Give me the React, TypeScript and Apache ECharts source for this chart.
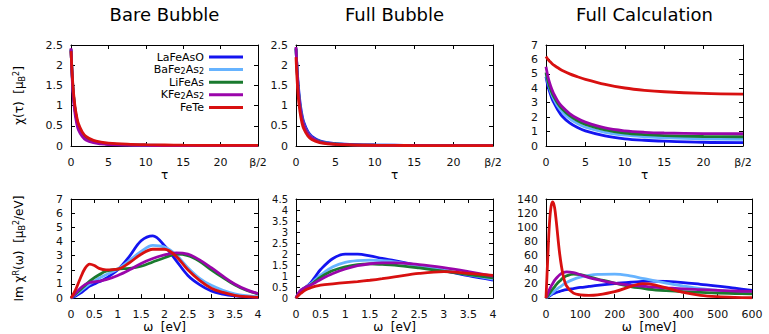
import React, { useEffect, useRef } from 'react';
import * as echarts from 'echarts';

const FONT = 'DejaVu Sans';

const seriesNames = ['LaFeAsO', 'BaFe2As2', 'LiFeAs', 'KFe2As2', 'FeTe'];
const seriesColors = ['#1414f0', '#66b3ff', '#1a7a2e', '#9a05aa', '#d81010'];
const panelTitles = ['Bare Bubble', 'Full Bubble', 'Full Calculation'];

// imaginary time grid (β/2 = 25)
const tauGrid = [0, 0.25, 0.5, 0.75, 1, 1.5, 2, 3, 4, 5, 7.5, 10, 12.5, 15, 20, 25];

const bareLaFeAsO = [2.38, 1.45, 0.95, 0.66, 0.48, 0.3, 0.2, 0.11, 0.07, 0.05, 0.03, 0.02, 0.016, 0.013, 0.01, 0.01];
const bareBaFe2As2 = [2.38, 1.47, 0.97, 0.68, 0.5, 0.31, 0.21, 0.12, 0.075, 0.055, 0.032, 0.022, 0.017, 0.014, 0.011, 0.01];
const bareLiFeAs = [2.4, 1.46, 0.96, 0.67, 0.49, 0.3, 0.2, 0.11, 0.07, 0.05, 0.03, 0.02, 0.016, 0.013, 0.01, 0.01];
const bareKFe2As2 = [2.42, 1.35, 0.85, 0.57, 0.4, 0.24, 0.15, 0.08, 0.05, 0.035, 0.02, 0.014, 0.011, 0.009, 0.008, 0.007];
const bareFeTe = [2.35, 1.52, 1.03, 0.74, 0.55, 0.35, 0.24, 0.14, 0.095, 0.07, 0.045, 0.032, 0.025, 0.02, 0.016, 0.014];

const fullLaFeAsO = [2.4, 1.6, 1.1, 0.78, 0.58, 0.36, 0.24, 0.13, 0.085, 0.06, 0.035, 0.025, 0.02, 0.016, 0.012, 0.011];
const fullBaFe2As2 = [2.42, 1.52, 1.02, 0.71, 0.52, 0.32, 0.21, 0.11, 0.072, 0.05, 0.03, 0.021, 0.017, 0.014, 0.011, 0.01];
const fullLiFeAs = [2.42, 1.5, 1.0, 0.7, 0.51, 0.31, 0.2, 0.11, 0.07, 0.05, 0.03, 0.02, 0.016, 0.013, 0.01, 0.01];
const fullKFe2As2 = [2.45, 1.5, 0.98, 0.68, 0.5, 0.3, 0.2, 0.1, 0.065, 0.045, 0.027, 0.018, 0.014, 0.012, 0.01, 0.009];
const fullFeTe = [2.2, 1.3, 0.85, 0.58, 0.42, 0.25, 0.16, 0.085, 0.055, 0.04, 0.024, 0.016, 0.013, 0.011, 0.009, 0.008];

const calcLaFeAsO = [4.8, 4.15, 3.7, 3.3, 3.0, 2.5, 2.1, 1.6, 1.28, 1.05, 0.7, 0.5, 0.4, 0.34, 0.26, 0.23];
const calcBaFe2As2 = [5.0, 4.4, 3.95, 3.55, 3.25, 2.75, 2.4, 1.9, 1.55, 1.3, 0.95, 0.75, 0.64, 0.57, 0.5, 0.46];
const calcLiFeAs = [5.1, 4.5, 4.05, 3.7, 3.4, 2.95, 2.6, 2.1, 1.75, 1.5, 1.12, 0.9, 0.79, 0.72, 0.66, 0.64];
const calcKFe2As2 = [5.5, 4.8, 4.3, 3.92, 3.6, 3.1, 2.75, 2.25, 1.9, 1.65, 1.25, 1.05, 0.95, 0.9, 0.86, 0.85];
const calcFeTe = [6.2, 6.0, 5.85, 5.72, 5.6, 5.42, 5.25, 5.0, 4.8, 4.62, 4.27, 4.02, 3.86, 3.76, 3.65, 3.6];

// real frequency grids
const omegaBare = [0, 0.1, 0.2, 0.3, 0.4, 0.5, 0.6, 0.75, 1, 1.25, 1.5, 1.75, 2, 2.25, 2.5, 2.75, 3, 3.25, 3.5, 3.75, 4];
const imBareLaFeAsO = [0, 0.15, 0.35, 0.6, 0.85, 1.0, 1.15, 1.4, 2.0, 2.95, 4.05, 4.4, 3.7, 2.65, 1.6, 0.95, 0.5, 0.28, 0.15, 0.08, 0.04];
const imBareBaFe2As2 = [0, 0.25, 0.5, 0.75, 1.0, 1.2, 1.4, 1.65, 2.05, 2.65, 3.3, 3.72, 3.6, 3.05, 2.15, 1.4, 0.9, 0.55, 0.3, 0.17, 0.1];
const imBareLiFeAs = [0, 0.3, 0.6, 0.9, 1.2, 1.45, 1.65, 1.9, 2.05, 2.1, 2.25, 2.55, 2.85, 3.1, 3.0, 2.6, 2.0, 1.45, 0.95, 0.55, 0.3];
const imBareKFe2As2 = [0, 0.35, 0.7, 0.95, 1.1, 1.15, 1.2, 1.3, 1.6, 2.0, 2.45, 2.8, 3.05, 3.2, 3.1, 2.7, 2.15, 1.55, 1.0, 0.6, 0.32];
const imBareFeTe = [0, 0.6, 1.4, 2.1, 2.4, 2.3, 2.1, 2.0, 2.05, 2.5, 3.1, 3.45, 3.45, 2.95, 2.0, 1.25, 0.7, 0.4, 0.2, 0.1, 0.05];

const omegaFull = [0, 0.05, 0.1, 0.2, 0.3, 0.4, 0.5, 0.75, 1, 1.25, 1.5, 1.75, 2, 2.5, 3, 3.5, 4];
const imFullLaFeAsO = [0, 0.2, 0.35, 0.5, 0.7, 1.0, 1.3, 1.8, 2.0, 2.0, 1.92, 1.8, 1.7, 1.48, 1.25, 1.02, 0.82];
const imFullBaFe2As2 = [0, 0.2, 0.35, 0.5, 0.65, 0.85, 1.05, 1.42, 1.62, 1.7, 1.72, 1.7, 1.65, 1.47, 1.27, 1.06, 0.86];
const imFullLiFeAs = [0, 0.2, 0.33, 0.48, 0.6, 0.78, 0.95, 1.25, 1.42, 1.52, 1.55, 1.53, 1.5, 1.37, 1.22, 1.07, 0.92];
const imFullKFe2As2 = [0, 0.22, 0.36, 0.5, 0.6, 0.72, 0.85, 1.12, 1.32, 1.47, 1.56, 1.6, 1.6, 1.52, 1.38, 1.2, 1.0];
const imFullFeTe = [0, 0.12, 0.22, 0.38, 0.47, 0.54, 0.59, 0.65, 0.7, 0.75, 0.81, 0.88, 0.96, 1.12, 1.2, 1.12, 1.03];

const omegaCalc = [0, 5, 10, 15, 20, 25, 30, 40, 50, 60, 80, 100, 125, 150, 200, 250, 280, 300, 350, 400, 450, 500, 550, 600];
const imCalcLaFeAsO = [0, 1.5, 3, 4.5, 6, 7, 8, 9.5, 11, 12, 13.5, 15, 16.5, 18, 20.5, 22.5, 23.5, 24, 23.5, 22, 19.5, 17, 14, 11];
const imCalcBaFe2As2 = [0, 2, 4, 6, 8, 10, 12, 15.5, 19, 22, 26.5, 29.5, 32, 33.5, 34, 31, 28, 26, 21, 17, 13.5, 11, 9, 7.5];
const imCalcLiFeAs = [0, 3, 6.5, 10, 13, 16, 19, 24, 28.5, 31.5, 34, 33, 30, 27, 21, 16, 14, 12.5, 10.5, 9, 8, 7, 6.5, 6];
const imCalcKFe2As2 = [0, 6, 12, 17, 21, 25, 28, 33, 36, 37, 36, 33, 29, 26, 21, 18, 17, 16, 14.5, 13, 12, 11, 10, 9.5];
const imCalcFeTe = [0, 55, 105, 130, 136, 128, 108, 62, 32, 17, 7, 4.5, 3.8, 4.5, 9, 17, 20.5, 20, 14.5, 8, 4, 2, 1, 0.5];

const subStyle = { fontSize: 8, lineHeight: 8, verticalAlign: 'bottom', fontFamily: FONT, color: '#000' };
const supStyle = { fontSize: 8, lineHeight: 8, verticalAlign: 'top', fontFamily: FONT, color: '#000' };

const tauName = 'τ';
const omegaEvName = 'ω  [eV]';
const omegaMevName = 'ω  [meV]';
const chiTauName = 'χ(τ)  [μ{s|B}{p|2}]';
const chiOmegaName = 'Im χ{p|R}(ω)  [μ{s|B}{p|2}/eV]';

type Panel = {
  grid: { left: number; top: number; width: number; height: number };
  x: number[];
  ys: number[][];
  xMax: number; xInt: number; yMax: number; yInt: number;
  xName: string; yName: string; tau: boolean; yFont: number;
};

const panels: Panel[] = [
  { grid: { left: 71, top: 45, width: 187, height: 101 }, x: tauGrid, ys: [bareLaFeAsO, bareBaFe2As2, bareLiFeAs, bareKFe2As2, bareFeTe], xMax: 25, xInt: 5, yMax: 2.5, yInt: 0.5, xName: tauName, yName: chiTauName, tau: true, yFont: 11 },
  { grid: { left: 296, top: 45, width: 197, height: 101 }, x: tauGrid, ys: [fullLaFeAsO, fullBaFe2As2, fullLiFeAs, fullKFe2As2, fullFeTe], xMax: 25, xInt: 5, yMax: 2.5, yInt: 0.5, xName: tauName, yName: '', tau: true, yFont: 11 },
  { grid: { left: 546, top: 45, width: 197, height: 101 }, x: tauGrid, ys: [calcLaFeAsO, calcBaFe2As2, calcLiFeAs, calcKFe2As2, calcFeTe], xMax: 25, xInt: 5, yMax: 7, yInt: 1, xName: tauName, yName: '', tau: true, yFont: 11 },
  { grid: { left: 71, top: 199, width: 187, height: 101 }, x: omegaBare, ys: [imBareLaFeAsO, imBareBaFe2As2, imBareLiFeAs, imBareKFe2As2, imBareFeTe], xMax: 4, xInt: 0.5, yMax: 7, yInt: 1, xName: omegaEvName, yName: chiOmegaName, tau: false, yFont: 11 },
  { grid: { left: 296, top: 199, width: 197, height: 101 }, x: omegaFull, ys: [imFullLaFeAsO, imFullBaFe2As2, imFullLiFeAs, imFullKFe2As2, imFullFeTe], xMax: 4, xInt: 0.5, yMax: 4.5, yInt: 0.5, xName: omegaEvName, yName: '', tau: false, yFont: 10 },
  { grid: { left: 546, top: 199, width: 206, height: 101 }, x: omegaCalc, ys: [imCalcLaFeAsO, imCalcBaFe2As2, imCalcLiFeAs, imCalcKFe2As2, imCalcFeTe], xMax: 600, xInt: 100, yMax: 140, yInt: 20, xName: omegaMevName, yName: '', tau: false, yFont: 11 },
];

const axisLineStyle = { show: true, onZero: false, lineStyle: { color: '#000', width: 1 } };
const tickStyle = { show: true, inside: true, length: 4, lineStyle: { color: '#000', width: 1 } };

export default function App() {
  const ref = useRef<HTMLDivElement>(null);
  useEffect(() => {
    if (!ref.current) return;
    const chart = echarts.init(ref.current, undefined, { renderer: 'svg' });

    const xMain = panels.map((p, i) => ({
      type: 'value', gridIndex: i, position: 'bottom', min: 0, max: p.xMax, interval: p.xInt,
      name: p.xName, nameLocation: 'middle', nameGap: p.tau ? 20 : 18,
      nameTextStyle: { fontSize: 12, color: '#000', fontFamily: FONT },
      axisLine: axisLineStyle, axisTick: tickStyle,
      axisLabel: {
        fontSize: 11, lineHeight: 11, color: '#111', fontFamily: FONT, margin: 11, showMinLabel: true, showMaxLabel: true,
        formatter: (v: number) => (p.tau && v === 25 ? 'β/2' : String(v)),
      },
      splitLine: { show: false },
    }));
    const xMirror = panels.map((p, i) => ({
      type: 'value', gridIndex: i, position: 'top', min: 0, max: p.xMax, interval: p.xInt,
      axisLine: axisLineStyle, axisTick: tickStyle, axisLabel: { show: false }, splitLine: { show: false },
    }));
    const yMain = panels.map((p, i) => ({
      type: 'value', gridIndex: i, position: 'left', min: 0, max: p.yMax, interval: p.yInt,
      name: p.yName, nameLocation: 'middle', nameGap: 45, nameRotate: 90,
      nameTextStyle: { fontSize: 12, lineHeight: 14, color: '#000', fontFamily: FONT, rich: { s: subStyle, p: supStyle } },
      axisLine: axisLineStyle, axisTick: tickStyle,
      axisLabel: { fontSize: p.yFont, lineHeight: 10, color: '#111', fontFamily: FONT, margin: 8, showMinLabel: true, showMaxLabel: true },
      splitLine: { show: false },
    }));
    const yMirror = panels.map((p, i) => ({
      type: 'value', gridIndex: i, position: 'right', min: 0, max: p.yMax, interval: p.yInt,
      axisLine: axisLineStyle, axisTick: tickStyle, axisLabel: { show: false }, splitLine: { show: false },
    }));

    const series: any[] = [];
    panels.forEach((p, pi) => {
      seriesNames.forEach((name, si) => {
        series.push({
          type: 'line', name, xAxisIndex: pi, yAxisIndex: pi,
          data: p.x.map((xv, k) => [xv, p.ys[si][k]]),
          smooth: 0.35, showSymbol: false, symbol: 'none', clip: true,
          lineStyle: { width: 2.8, color: seriesColors[si] },
          itemStyle: { color: seriesColors[si] },
          z: 2 + si,
        });
      });
    });

    const titles = panelTitles.map((t, i) => ({
      type: 'text',
      x: panels[i].grid.left + panels[i].grid.width / 2,
      y: 14,
      style: { text: t, fontSize: 18, fontFamily: FONT, fill: '#000', align: 'center', verticalAlign: 'middle' },
    }));

    chart.setOption({
      animation: false,
      backgroundColor: '#fff',
      textStyle: { fontFamily: FONT },
      grid: panels.map((p) => ({ ...p.grid })),
      xAxis: [...xMain, ...xMirror],
      yAxis: [...yMain, ...yMirror],
      legend: {
        data: seriesNames,
        orient: 'vertical', align: 'right', right: 526, top: 51,
        itemWidth: 34, itemHeight: 3, itemGap: 0.6, icon: 'rect',
        padding: 0,
        formatter: (name: string) => name.replace(/(\d)/g, '{s|$1}'),
        textStyle: { fontSize: 11, lineHeight: 12, color: '#000', fontFamily: FONT, rich: { s: subStyle } },
      },
      graphic: titles,
      series,
    });
    return () => chart.dispose();
  }, []);
  return <div ref={ref} style={{ position: 'fixed', left: 0, top: 0, width: 769, height: 334 }} />;
}
